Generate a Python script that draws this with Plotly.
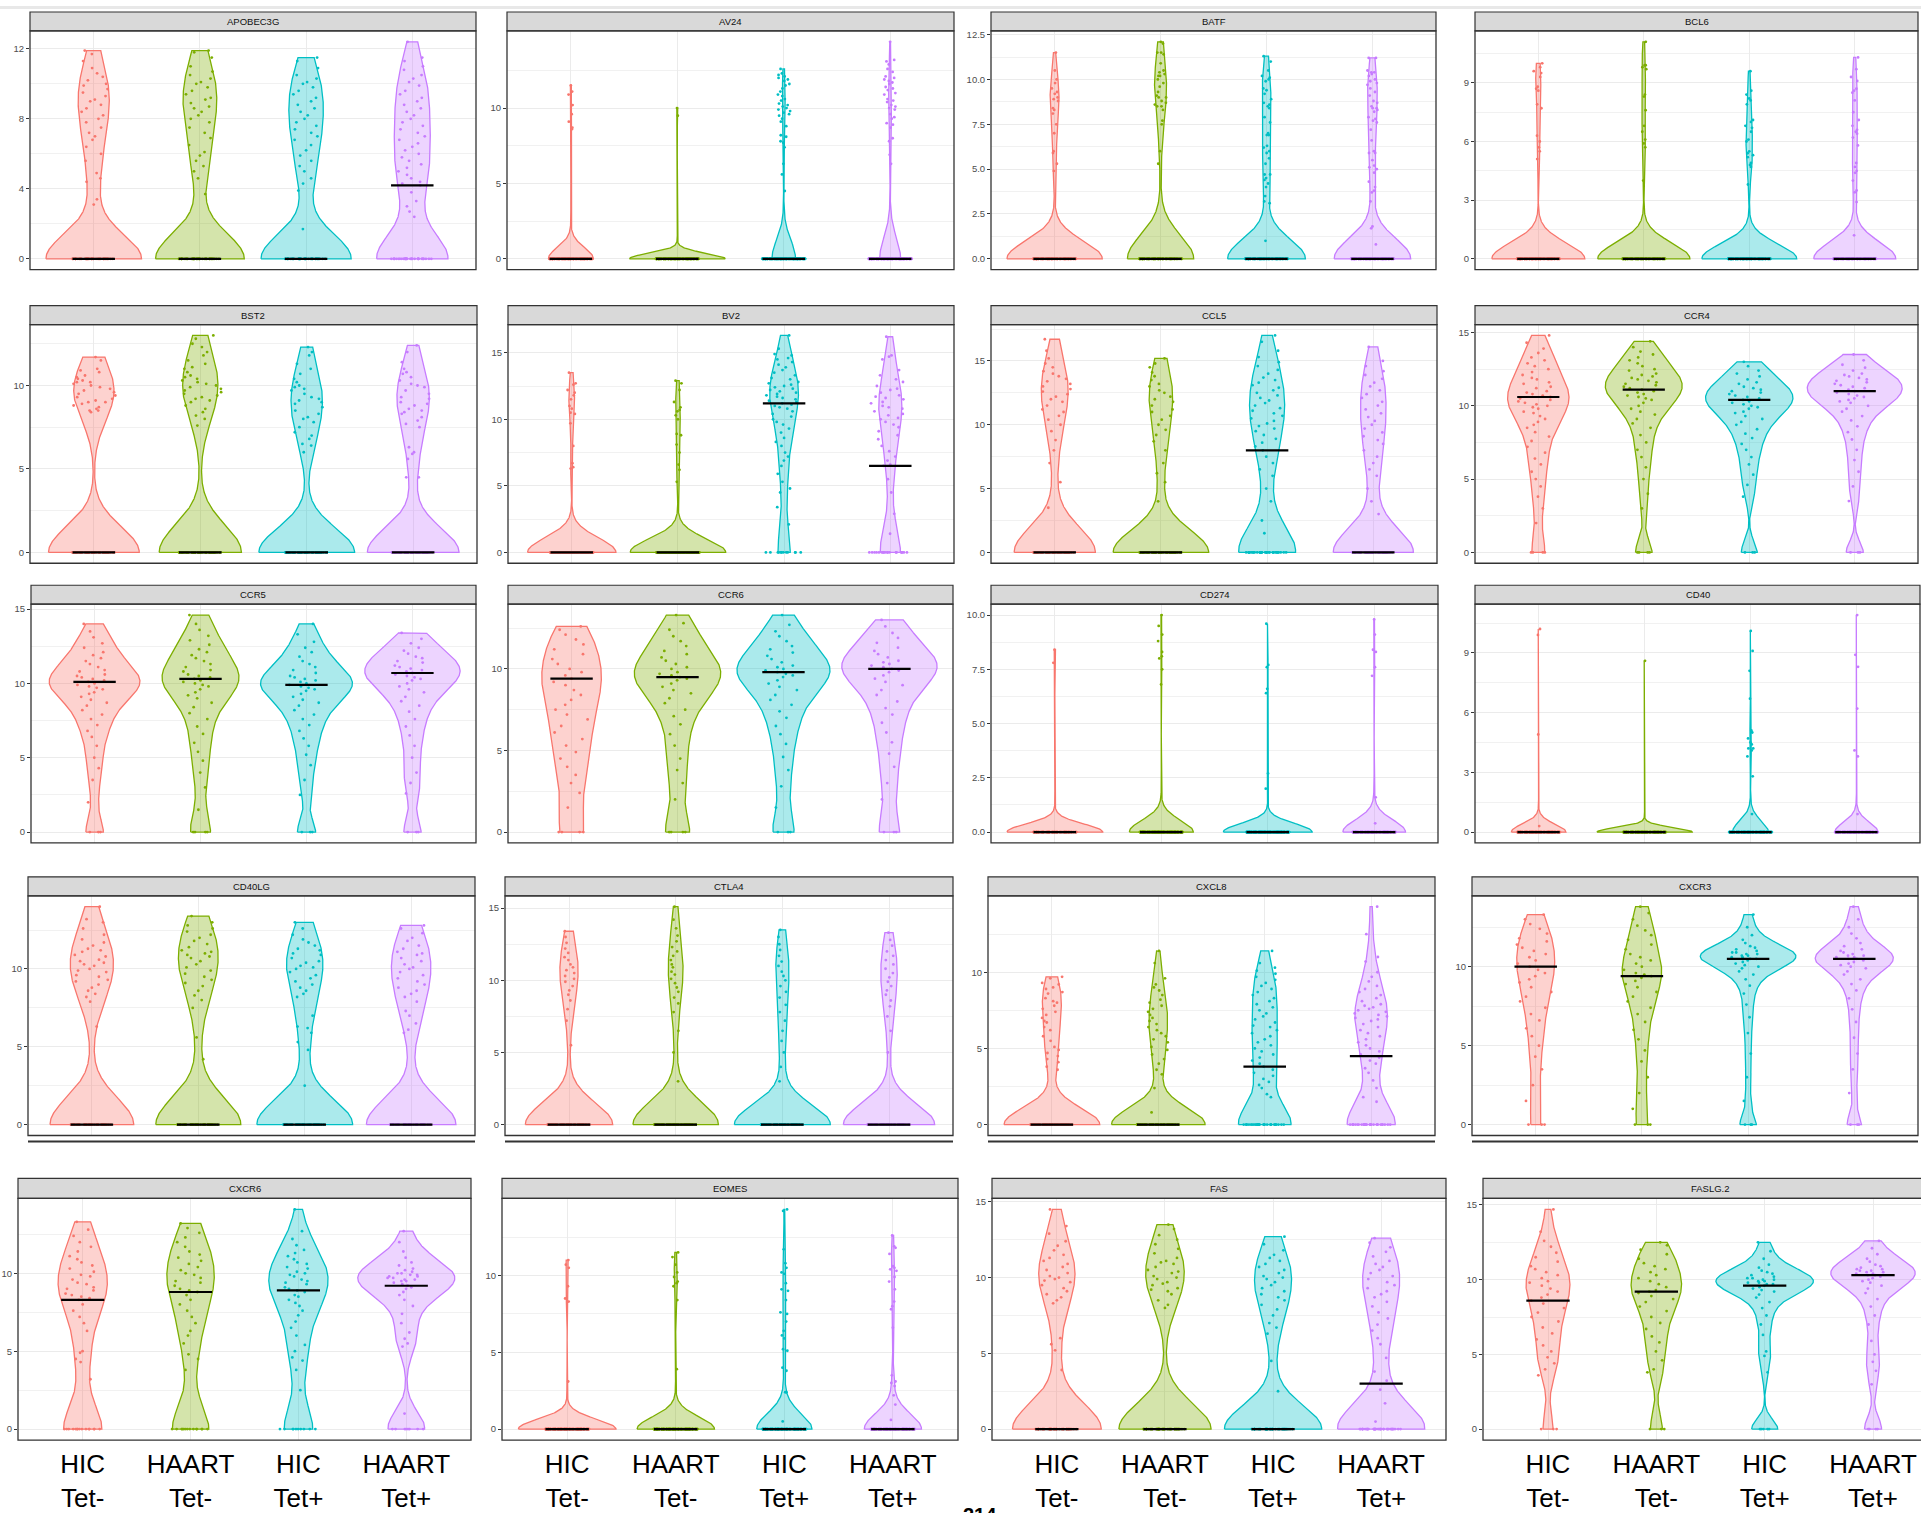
import numpy as np
import plotly.graph_objects as go

W, H = 1921, 1513

GENES = ["APOBEC3G", "AV24", "BATF", "BCL6",
         "BST2", "BV2", "CCL5", "CCR4",
         "CCR5", "CCR6", "CD274", "CD40",
         "CD40LG", "CTLA4", "CXCL8", "CXCR3",
         "CXCR6", "EOMES", "FAS", "FASLG.2"]
GROUP_LABELS = ["HIC<br>Tet-", "HAART<br>Tet-", "HIC<br>Tet+", "HAART<br>Tet+"]
GROUP_COLORS = ["#F8766D", "#7CAE00", "#00BFC4", "#C77CFF"]

# ---------------- data: zero counts, non-zero expression values, medians, y ticks ----------------
apobec3g_zeros = [50, 45, 42, 33]
apobec3g_expr = [
    [11.9, 11.7, 11.3, 10.9, 10.6, 10.4, 10.2, 10.0, 9.9, 9.7, 9.5, 9.3, 9.1, 9.0, 8.8, 8.6, 8.4, 8.2, 8.0, 7.8, 7.5, 7.2, 7.0, 6.8, 6.4, 6.0, 5.6, 4.9, 4.6, 4.4, 3.4, 3.1],
    [11.9, 11.8, 11.5, 11.0, 10.7, 10.5, 10.3, 10.1, 10.0, 9.8, 9.6, 9.4, 9.2, 9.1, 8.9, 8.7, 8.6, 8.4, 8.2, 8.0, 7.8, 7.5, 7.2, 6.9, 6.5, 6.1, 5.9, 5.6, 5.3, 5.0, 4.6, 3.7],
    [11.5, 11.3, 10.9, 10.5, 10.3, 10.1, 10.0, 9.8, 9.6, 9.4, 9.2, 9.0, 8.8, 8.6, 8.4, 8.2, 8.0, 7.8, 7.6, 7.4, 7.2, 7.0, 6.8, 6.5, 6.2, 5.9, 5.6, 5.3, 5.0, 4.6, 4.3, 3.9, 1.7],
    [12.4, 11.5, 11.3, 11.0, 10.8, 10.5, 10.3, 10.1, 9.9, 9.6, 9.4, 9.2, 9.0, 8.8, 8.6, 8.4, 8.2, 8.0, 7.8, 7.6, 7.4, 7.2, 7.0, 6.8, 6.6, 6.4, 6.2, 6.0, 5.8, 5.6, 5.4, 5.2, 5.0, 4.8, 4.6, 4.4, 4.3, 4.2, 3.8, 3.3, 3.0, 2.7, 2.4],
]
apobec3g_median = [0, 0, 0, 4.2]
apobec3g_ticks = [0, 4, 8, 12]

av24_zeros = [140, 150, 170, 150]
av24_expr = [
    [11.5, 11.1, 10.9, 10.2, 9.6, 9.1, 8.7, 8.6],
    [10.0, 9.5],
    [12.6, 12.3, 12.2, 12.1, 12.0, 11.9, 11.8, 11.6, 11.5, 11.3, 11.1, 10.9, 10.8, 10.6, 10.5, 10.3, 10.2, 10.1, 10.0, 9.9, 9.8, 9.7, 9.6, 9.5, 9.3, 9.1, 8.8, 8.2, 8.1, 7.8, 7.7, 7.4, 6.3, 5.6, 4.5],
    [14.4, 13.2, 13.1, 12.9, 12.6, 12.4, 12.1, 12.0, 11.9, 11.8, 11.7, 11.6, 11.4, 11.3, 11.2, 11.0, 10.9, 10.6, 10.5, 10.4, 10.2, 10.1, 10.0, 9.9, 9.6, 9.4, 9.3, 9.0, 8.9, 8.7, 8.0, 7.8, 6.9, 6.3],
]
av24_median = [0, 0, 0, 0]
av24_ticks = [0, 5, 10]

batf_zeros = [110, 100, 110, 135]
batf_expr = [
    [11.5, 10.5, 10.0, 9.8, 9.5, 9.3, 9.2, 9.0, 8.9, 8.8, 8.4, 8.3, 8.1, 7.5, 7.0, 6.0, 5.9, 5.3, 4.9],
    [12.1, 12.0, 11.5, 11.5, 11.4, 10.9, 10.5, 10.4, 10.3, 10.2, 10.2, 10.0, 9.8, 9.6, 9.3, 9.1, 9.0, 9.0, 8.8, 8.7, 8.6, 8.5, 8.5, 8.3, 7.7, 7.5, 6.0, 5.3],
    [11.3, 11.0, 10.5, 10.2, 10.1, 10.0, 9.9, 9.5, 9.4, 9.2, 8.9, 8.7, 8.6, 8.5, 8.4, 7.9, 7.6, 7.0, 6.9, 6.9, 6.3, 6.2, 6.0, 5.9, 5.6, 5.3, 4.7, 4.7, 4.5, 4.4, 4.2, 4.0, 3.5, 3.2, 3.1, 1.0],
    [11.2, 11.2, 10.5, 10.4, 10.4, 10.3, 10.2, 10.0, 9.9, 9.8, 9.7, 9.5, 9.3, 9.1, 8.8, 8.7, 8.5, 8.4, 8.4, 8.3, 8.2, 7.9, 7.8, 7.7, 7.6, 7.2, 6.6, 6.0, 5.9, 5.9, 5.5, 5.2, 5.1, 5.0, 4.8, 4.3, 4.0, 3.8, 3.7, 3.2, 1.8, 1.7, 0.8],
]
batf_median = [0, 0, 0, 0]
batf_ticks = [0, 2.5, 5, 7.5, 10, 12.5]

bcl6_zeros = [130, 120, 130, 120]
bcl6_expr = [
    [10.0, 9.8, 9.6, 9.5, 9.3, 8.8, 8.7, 8.6, 7.9, 7.7, 6.3, 6.0, 5.7, 5.5, 5.1],
    [11.1, 9.9, 9.9, 9.8, 9.7, 8.4, 8.3, 7.6, 6.8, 6.5, 6.1, 5.9, 5.7, 4.0],
    [9.6, 8.6, 8.4, 8.2, 8.1, 7.9, 7.1, 7.0, 6.8, 6.7, 6.5, 6.1, 6.0, 5.5, 5.4, 5.3, 5.2, 4.9, 4.8, 4.7, 3.8],
    [10.3, 9.7, 9.3, 9.1, 8.7, 8.6, 8.5, 8.1, 7.5, 7.1, 6.8, 6.6, 6.5, 6.4, 6.2, 5.8, 4.9, 4.7, 4.5, 4.4, 4.0, 3.5, 3.4, 2.9, 1.2],
]
bcl6_median = [0, 0, 0, 0]
bcl6_ticks = [0, 3, 6, 9]

bst2_zeros = [60, 60, 60, 55]
bst2_expr = [
    [11.7, 11.5, 11.0, 10.9, 10.8, 10.6, 10.5, 10.4, 10.3, 10.2, 10.2, 10.1, 10.0, 9.9, 9.8, 9.7, 9.6, 9.5, 9.4, 9.3, 9.2, 9.1, 9.0, 9.0, 8.9, 8.8, 8.7, 8.6, 8.5, 8.5, 8.4],
    [13.0, 12.8, 12.5, 12.3, 12.0, 11.8, 11.5, 11.3, 11.1, 11.0, 10.8, 10.6, 10.5, 10.4, 10.3, 10.2, 10.1, 10.0, 9.9, 9.8, 9.7, 9.6, 9.5, 9.4, 9.3, 9.2, 9.1, 9.0, 8.8, 8.6, 8.4, 8.2, 8.0, 7.6],
    [12.3, 12.0, 11.8, 11.3, 11.0, 10.7, 10.4, 10.2, 10.0, 9.9, 9.8, 9.7, 9.5, 9.3, 9.2, 9.1, 9.0, 8.9, 8.7, 8.5, 8.3, 8.1, 8.0, 7.8, 7.5, 7.2, 7.0, 6.8, 6.5, 6.4, 6.0],
    [12.4, 12.0, 11.4, 11.0, 10.8, 10.7, 10.5, 10.3, 10.1, 10.0, 9.9, 9.7, 9.5, 9.3, 9.2, 9.0, 8.9, 8.8, 8.6, 8.5, 8.4, 8.3, 8.1, 7.9, 7.7, 7.5, 6.3, 6.0, 5.9, 5.6, 4.5, 4.5],
]
bst2_median = [0, 0, 0, 0]
bst2_ticks = [0, 5, 10]

bv2_zeros = [130, 130, 12, 19]
bv2_expr = [
    [13.5, 12.7, 12.6, 12.2, 12.0, 11.8, 11.5, 11.0, 10.8, 10.5, 10.4, 9.7, 8.0, 6.7, 6.4, 6.3],
    [12.9, 12.7, 12.2, 11.3, 10.9, 10.7, 10.6, 10.3, 10.0, 8.9, 8.8, 8.1, 7.5, 6.6, 6.2, 5.3],
    [16.3, 15.3, 14.9, 14.8, 14.6, 14.5, 14.3, 14.1, 13.9, 13.7, 13.5, 13.3, 13.1, 13.0, 12.8, 12.7, 12.6, 12.5, 12.4, 12.3, 12.2, 12.1, 12.0, 11.9, 11.8, 11.7, 11.6, 11.5, 11.4, 11.3, 11.2, 11.1, 11.0, 10.9, 10.8, 10.6, 10.4, 10.2, 10.0, 9.8, 9.6, 9.3, 9.0, 8.6, 8.3, 8.0, 7.5, 7.2, 6.9, 6.5, 5.9, 5.3, 4.8, 4.5, 3.4, 2.1],
    [16.2, 14.8, 14.7, 14.5, 13.7, 13.3, 13.0, 12.8, 12.5, 12.3, 12.2, 12.0, 11.8, 11.7, 11.6, 11.5, 11.3, 11.2, 11.0, 10.9, 10.8, 10.6, 10.4, 10.3, 10.1, 10.0, 9.8, 9.6, 9.4, 9.1, 8.8, 8.5, 8.0, 7.6, 7.2, 6.9, 6.6, 6.5, 5.5, 4.5, 2.9, 1.4],
]
bv2_median = [0, 0, 11.2, 6.5]
bv2_ticks = [0, 5, 10, 15]

ccl5_zeros = [55, 60, 34, 45]
ccl5_expr = [
    [16.7, 15.8, 15.2, 14.8, 14.5, 14.2, 14.0, 13.8, 13.6, 13.4, 13.2, 13.0, 12.8, 12.6, 12.4, 12.2, 12.0, 11.8, 11.5, 11.2, 11.0, 10.7, 10.4, 10.0, 9.5, 8.8, 8.0, 7.0, 5.5, 3.5],
    [15.2, 14.8, 14.5, 14.1, 13.8, 13.5, 13.2, 13.0, 12.7, 12.5, 12.2, 12.0, 11.8, 11.5, 11.2, 11.0, 10.7, 10.4, 10.0, 9.6, 9.2, 8.7, 8.0, 7.0, 6.2, 5.5, 4.0],
    [17.0, 16.5, 15.8, 15.3, 14.9, 14.6, 14.3, 14.0, 13.7, 13.5, 13.3, 13.1, 12.9, 12.7, 12.5, 12.3, 12.1, 11.9, 11.7, 11.5, 11.3, 11.1, 10.9, 10.7, 10.5, 10.3, 10.1, 9.9, 9.7, 9.5, 9.2, 8.9, 8.6, 8.3, 8.0, 7.5, 7.0, 6.5, 6.0, 5.0, 4.0, 2.5, 1.5],
    [16.1, 15.0, 14.6, 14.2, 13.9, 13.6, 13.3, 13.0, 12.7, 12.4, 12.1, 11.8, 11.5, 11.2, 10.9, 10.6, 10.3, 10.0, 9.7, 9.4, 9.1, 8.8, 8.5, 8.0, 7.5, 7.0, 6.5, 6.0, 5.0, 4.0, 3.0],
]
ccl5_median = [0, 0, 8.0, 0]
ccl5_ticks = [0, 5, 10, 15]

ccr4_zeros = [4, 4, 3, 3]
ccr4_expr = [
    [14.8, 14.3, 13.9, 13.6, 13.3, 13.1, 12.9, 12.7, 12.5, 12.3, 12.1, 11.9, 11.8, 11.6, 11.5, 11.3, 11.2, 11.0, 10.9, 10.8, 10.7, 10.6, 10.5, 10.4, 10.3, 10.2, 10.1, 10.0, 9.9, 9.8, 9.6, 9.5, 9.3, 9.1, 8.9, 8.7, 8.5, 8.2, 7.9, 7.6, 7.2, 6.8, 6.4, 6.0, 5.5, 5.0, 4.5, 3.8, 3.0, 2.0],
    [14.4, 14.0, 13.7, 13.5, 13.3, 13.1, 12.9, 12.7, 12.5, 12.4, 12.2, 12.1, 12.0, 11.9, 11.8, 11.7, 11.6, 11.5, 11.4, 11.3, 11.2, 11.1, 11.0, 10.9, 10.8, 10.7, 10.6, 10.5, 10.4, 10.2, 10.0, 9.8, 9.6, 9.4, 9.1, 8.8, 8.5, 8.0, 7.5, 7.0, 6.5, 5.8, 5.0, 4.0, 3.0],
    [13.0, 12.7, 12.4, 12.2, 12.0, 11.8, 11.6, 11.5, 11.3, 11.2, 11.1, 11.0, 10.9, 10.8, 10.7, 10.6, 10.5, 10.4, 10.3, 10.2, 10.1, 10.0, 9.9, 9.8, 9.6, 9.5, 9.3, 9.1, 8.9, 8.7, 8.4, 8.1, 7.8, 7.4, 7.0, 6.5, 6.0, 5.3, 4.6, 3.8],
    [13.5, 13.1, 12.8, 12.6, 12.4, 12.2, 12.1, 12.0, 11.9, 11.8, 11.7, 11.6, 11.5, 11.4, 11.3, 11.2, 11.1, 11.0, 10.9, 10.8, 10.7, 10.6, 10.5, 10.4, 10.3, 10.2, 10.0, 9.8, 9.6, 9.3, 9.0, 8.6, 8.2, 7.7, 7.0, 6.3, 5.5, 4.5, 3.5],
]
ccr4_median = [10.6, 11.1, 10.4, 11.0]
ccr4_ticks = [0, 5, 10, 15]

ccr5_zeros = [3, 4, 3, 3]
ccr5_expr = [
    [14.0, 13.5, 13.1, 12.7, 12.4, 12.1, 11.9, 11.7, 11.5, 11.3, 11.1, 10.9, 10.8, 10.6, 10.5, 10.4, 10.3, 10.2, 10.1, 10.0, 9.9, 9.8, 9.7, 9.6, 9.4, 9.3, 9.1, 8.9, 8.7, 8.5, 8.2, 7.9, 7.6, 7.2, 6.8, 6.4, 5.8, 5.0, 4.3, 3.5, 2.0],
    [14.6, 14.0, 13.6, 13.2, 12.9, 12.6, 12.3, 12.1, 11.9, 11.7, 11.5, 11.3, 11.1, 10.9, 10.8, 10.6, 10.5, 10.4, 10.3, 10.2, 10.1, 10.0, 9.9, 9.8, 9.6, 9.4, 9.2, 9.0, 8.7, 8.4, 8.0, 7.6, 7.1, 6.6, 6.0, 5.4, 4.8, 4.0, 3.0, 1.5],
    [14.0, 13.3, 12.8, 12.4, 12.1, 11.8, 11.5, 11.3, 11.1, 10.9, 10.7, 10.5, 10.4, 10.3, 10.2, 10.1, 10.0, 9.9, 9.8, 9.7, 9.6, 9.5, 9.3, 9.1, 8.9, 8.7, 8.5, 8.2, 7.9, 7.6, 7.2, 6.8, 6.3, 5.8, 5.2, 4.5, 3.5, 2.5],
    [13.4, 13.0, 12.7, 12.4, 12.2, 12.0, 11.8, 11.7, 11.5, 11.4, 11.2, 11.1, 11.0, 10.9, 10.8, 10.7, 10.6, 10.5, 10.4, 10.3, 10.2, 10.0, 9.8, 9.6, 9.4, 9.1, 8.8, 8.5, 8.1, 7.6, 7.1, 6.5, 5.8, 5.0, 4.0, 3.3, 2.6],
]
ccr5_median = [10.1, 10.3, 9.9, 10.7]
ccr5_ticks = [0, 5, 10, 15]

ccr6_zeros = [4, 4, 3, 3]
ccr6_expr = [
    [12.6, 12.4, 12.1, 11.8, 11.5, 11.2, 10.9, 10.6, 10.3, 10.0, 9.8, 9.6, 9.4, 9.2, 9.0, 8.7, 8.4, 8.1, 7.8, 7.5, 7.2, 6.9, 6.5, 6.1, 5.7, 5.3, 4.9, 4.5, 4.0, 3.5, 3.0, 2.4, 1.5],
    [13.3, 12.8, 12.4, 12.0, 11.7, 11.4, 11.1, 10.9, 10.7, 10.5, 10.3, 10.1, 10.0, 9.8, 9.7, 9.6, 9.5, 9.4, 9.3, 9.1, 8.9, 8.7, 8.5, 8.2, 7.9, 7.5, 7.1, 6.6, 6.0, 5.3, 4.5, 3.8, 3.0, 2.0],
    [13.3, 12.7, 12.3, 12.0, 11.7, 11.4, 11.2, 11.0, 10.8, 10.6, 10.4, 10.2, 10.1, 10.0, 9.9, 9.8, 9.7, 9.6, 9.5, 9.3, 9.1, 8.9, 8.7, 8.4, 8.1, 7.8, 7.4, 7.0, 6.5, 6.0, 5.4, 4.6, 3.8, 2.8, 1.5],
    [13.0, 12.6, 12.2, 11.9, 11.6, 11.3, 11.1, 10.9, 10.7, 10.5, 10.4, 10.3, 10.2, 10.1, 10.0, 9.9, 9.8, 9.6, 9.4, 9.2, 9.0, 8.7, 8.4, 8.0, 7.6, 7.2, 6.7, 6.1, 5.5, 4.8, 4.0, 3.0, 2.0],
]
ccr6_median = [9.4, 9.5, 9.8, 10.0]
ccr6_ticks = [0, 5, 10]

cd274_zeros = [100, 220, 200, 140]
cd274_expr = [
    [8.4, 7.8],
    [10.0, 9.5, 9.1, 8.8, 8.3, 8.1, 8.0, 7.5, 6.8],
    [9.6, 7.7, 7.6, 6.6, 6.4, 2.7, 2.0],
    [9.8, 9.1, 8.4, 8.3, 7.6, 7.2, 1.6, 0.4],
]
cd274_median = [0, 0, 0, 0]
cd274_ticks = [0, 2.5, 5, 7.5, 10]

cd40_zeros = [150, 150, 140, 140]
cd40_expr = [
    [10.2, 9.9, 4.9, 0.3],
    [8.6],
    [10.1, 9.1, 8.1, 6.7, 5.1, 5.0, 4.7, 4.5, 4.4, 4.2, 4.2, 4.1, 3.8, 2.8, 0.9],
    [10.9, 8.9, 8.3, 6.2, 4.1, 3.8, 0.9],
]
cd40_median = [0, 0, 0, 0]
cd40_ticks = [0, 3, 6, 9]

cd40lg_zeros = [45, 45, 50, 43]
cd40lg_expr = [
    [14.0, 13.2, 13.0, 12.6, 12.2, 11.9, 11.7, 11.5, 11.3, 11.2, 11.1, 10.9, 10.8, 10.6, 10.5, 10.4, 10.3, 10.2, 10.0, 9.9, 9.8, 9.6, 9.5, 9.3, 9.2, 9.0, 8.8, 8.6, 8.4, 8.2, 7.9, 6.3],
    [13.4, 13.0, 12.8, 12.6, 12.4, 12.2, 12.0, 11.8, 11.6, 11.4, 11.2, 11.1, 11.0, 10.9, 10.8, 10.7, 10.5, 10.3, 10.1, 9.9, 9.7, 9.5, 9.3, 9.1, 8.9, 8.6, 8.3, 8.0, 7.5, 5.6, 4.2],
    [13.0, 12.6, 12.2, 11.9, 11.7, 11.5, 11.3, 11.2, 11.0, 10.9, 10.7, 10.5, 10.4, 10.2, 10.1, 10.0, 9.8, 9.6, 9.4, 9.2, 9.0, 8.8, 8.6, 8.4, 8.2, 7.0, 6.3, 6.2, 5.9, 5.3, 4.8, 2.5],
    [12.8, 12.6, 12.3, 12.0, 11.8, 11.5, 11.3, 11.1, 11.0, 10.9, 10.7, 10.5, 10.3, 10.1, 10.0, 9.8, 9.6, 9.4, 9.2, 9.0, 8.8, 8.6, 8.4, 8.2, 7.9, 7.3, 7.0, 6.5, 6.1, 5.9],
]
cd40lg_median = [0, 0, 0, 0]
cd40lg_ticks = [0, 5, 10]

ctla4_zeros = [64, 70, 65, 60]
ctla4_expr = [
    [13.4, 13.0, 12.6, 12.2, 11.9, 11.6, 11.4, 11.1, 10.9, 10.7, 10.5, 10.3, 10.1, 9.9, 9.6, 9.3, 9.0, 8.6, 8.0, 7.2, 5.5],
    [15.1, 14.2, 13.6, 13.1, 12.7, 12.3, 12.0, 11.7, 11.4, 11.1, 10.9, 10.6, 10.4, 10.1, 9.8, 9.5, 9.2, 8.8, 8.4, 7.8, 6.5, 5.0, 3.0],
    [13.5, 13.0, 12.5, 12.1, 11.7, 11.3, 11.0, 10.6, 10.3, 10.0, 9.6, 9.2, 8.8, 8.3, 7.8, 7.2, 6.5, 5.8, 5.0, 4.0, 3.0],
    [13.3, 12.8, 12.4, 12.0, 11.7, 11.4, 11.1, 10.8, 10.5, 10.2, 9.9, 9.6, 9.3, 9.0, 8.6, 8.2, 7.5, 6.5, 5.0],
]
ctla4_median = [0, 0, 0, 0]
ctla4_ticks = [0, 5, 10, 15]

cxcl8_zeros = [70, 65, 32, 30]
cxcl8_expr = [
    [9.7, 9.6, 9.3, 9.2, 9.0, 8.9, 8.7, 8.6, 8.3, 8.1, 8.0, 7.8, 7.6, 7.4, 7.2, 7.0, 6.8, 6.7, 6.4, 6.2, 5.8, 5.5, 5.1, 4.9, 4.7, 4.5, 4.3, 4.1, 3.8, 3.6],
    [11.4, 10.6, 9.6, 9.2, 9.0, 8.8, 8.5, 8.2, 8.0, 7.8, 7.6, 7.4, 7.2, 7.0, 6.8, 6.6, 6.4, 6.2, 6.0, 5.8, 5.6, 5.4, 5.1, 4.9, 4.6, 4.3, 4.0, 3.6, 3.3, 2.4, 0.8],
    [11.4, 10.6, 10.3, 10.1, 9.9, 9.7, 9.5, 9.3, 9.1, 8.9, 8.7, 8.5, 8.3, 8.1, 7.9, 7.7, 7.5, 7.3, 7.1, 6.9, 6.7, 6.5, 6.4, 6.2, 6.0, 5.8, 5.6, 5.4, 5.2, 5.0, 4.8, 4.6, 4.4, 4.2, 4.0, 3.8, 3.6, 3.4, 3.2, 3.0, 2.8, 2.6, 2.4, 2.0, 1.8],
    [14.3, 12.5, 11.0, 10.7, 10.0, 9.7, 9.4, 9.1, 8.9, 8.7, 8.5, 8.3, 8.1, 7.9, 7.8, 7.7, 7.6, 7.5, 7.4, 7.3, 7.2, 7.1, 7.0, 6.9, 6.8, 6.6, 6.4, 6.2, 6.0, 5.8, 5.6, 5.4, 5.2, 5.0, 4.8, 4.6, 4.4, 4.2, 4.0, 3.7, 3.4, 2.9, 2.4, 1.8, 1.5],
]
cxcl8_median = [0, 0, 3.8, 4.5]
cxcl8_ticks = [0, 5, 10]

cxcr3_zeros = [3, 3, 3, 3]
cxcr3_expr = [
    [13.3, 13.0, 12.7, 12.4, 12.1, 11.8, 11.6, 11.4, 11.2, 11.0, 10.8, 10.6, 10.4, 10.2, 10.0, 9.8, 9.6, 9.4, 9.2, 9.0, 8.7, 8.4, 8.1, 7.8, 7.4, 7.0, 6.6, 6.1, 5.6, 5.0, 4.3, 3.5, 2.5, 1.5],
    [13.8, 13.4, 13.0, 12.6, 12.3, 12.0, 11.7, 11.4, 11.1, 10.8, 10.6, 10.4, 10.2, 10.0, 9.8, 9.6, 9.5, 9.4, 9.3, 9.1, 8.9, 8.7, 8.4, 8.1, 7.8, 7.4, 7.0, 6.5, 6.0, 5.4, 4.7, 4.0, 3.0, 2.0, 1.0],
    [13.3, 12.5, 12.0, 11.7, 11.5, 11.3, 11.2, 11.1, 11.0, 10.9, 10.9, 10.8, 10.8, 10.7, 10.7, 10.6, 10.6, 10.5, 10.5, 10.4, 10.3, 10.2, 10.1, 10.0, 9.9, 9.7, 9.5, 9.2, 8.8, 8.3, 7.6, 6.8, 5.8, 4.5, 3.0, 1.5],
    [13.8, 13.0, 12.5, 12.1, 11.8, 11.5, 11.3, 11.1, 11.0, 10.9, 10.8, 10.7, 10.7, 10.6, 10.6, 10.5, 10.5, 10.4, 10.3, 10.2, 10.1, 10.0, 9.9, 9.7, 9.5, 9.2, 8.9, 8.5, 8.0, 7.3, 6.5, 5.5, 4.5, 3.5, 2.0],
]
cxcr3_median = [10.0, 9.4, 10.5, 10.5]
cxcr3_ticks = [0, 5, 10]

cxcr6_zeros = [15, 14, 10, 8]
cxcr6_expr = [
    [13.3, 12.8, 12.4, 12.0, 11.7, 11.4, 11.1, 10.9, 10.7, 10.5, 10.3, 10.1, 9.9, 9.8, 9.6, 9.4, 9.3, 9.1, 9.0, 8.9, 8.7, 8.6, 8.5, 8.4, 8.3, 8.0, 7.6, 7.2, 6.8, 6.3, 5.0, 4.9, 4.5, 4.3, 3.2],
    [13.2, 12.9, 12.6, 12.3, 12.0, 11.7, 11.4, 11.2, 11.0, 10.8, 10.6, 10.4, 10.2, 10.0, 9.9, 9.7, 9.5, 9.4, 9.2, 9.0, 8.9, 8.8, 8.6, 8.3, 8.0, 7.6, 7.2, 6.8, 6.3, 6.0, 5.5, 4.8, 4.5, 3.8],
    [14.1, 12.7, 12.2, 11.8, 11.5, 11.3, 11.1, 10.9, 10.7, 10.6, 10.4, 10.3, 10.1, 10.0, 9.9, 9.8, 9.6, 9.5, 9.4, 9.3, 9.1, 9.0, 8.9, 8.8, 8.6, 8.5, 8.3, 8.1, 7.9, 7.6, 7.3, 6.9, 6.5, 6.0, 5.4, 5.0, 4.6, 4.4, 3.8, 2.5],
    [12.7, 12.0, 11.4, 11.0, 10.7, 10.5, 10.3, 10.2, 10.1, 10.0, 10.0, 9.9, 9.9, 9.8, 9.8, 9.7, 9.7, 9.6, 9.6, 9.5, 9.5, 9.4, 9.3, 9.2, 9.1, 9.0, 8.8, 8.6, 8.3, 7.9, 7.4, 6.8, 6.2, 5.8, 5.5, 5.3, 1.0],
]
cxcr6_median = [8.3, 8.8, 8.9, 9.2]
cxcr6_ticks = [0, 5, 10]

eomes_zeros = [140, 140, 130, 130]
eomes_expr = [
    [11.0, 10.7, 10.5, 9.3, 8.5, 8.3, 3.1],
    [11.5, 11.2, 10.7, 10.2, 9.9, 9.6, 9.5, 9.3, 8.4, 3.9],
    [14.3, 14.2, 11.7, 10.8, 10.5, 10.2, 10.1, 9.5, 9.1, 9.0, 8.4, 7.6, 7.5, 7.0, 6.4, 6.1, 5.9, 5.2, 5.1, 4.0, 3.8, 2.4, 2.4, 0.5],
    [12.6, 11.9, 11.8, 11.4, 10.6, 10.5, 10.4, 10.3, 9.9, 9.6, 9.1, 8.3, 8.0, 7.8, 6.6, 3.5, 3.1, 3.0, 2.8, 2.2, 1.6, 0.6],
]
eomes_median = [0, 0, 0, 0]
eomes_ticks = [0, 5, 10]

fas_zeros = [45, 50, 45, 35]
fas_expr = [
    [14.5, 13.4, 12.9, 12.4, 12.1, 11.8, 11.5, 11.3, 11.1, 10.9, 10.7, 10.5, 10.3, 10.1, 10.0, 9.9, 9.8, 9.7, 9.5, 9.3, 9.1, 8.9, 8.7, 8.5, 8.3, 6.0, 5.6, 5.2, 3.9],
    [13.5, 13.2, 12.8, 12.5, 12.2, 11.9, 11.6, 11.3, 11.1, 11.0, 10.9, 10.7, 10.5, 10.4, 10.3, 10.1, 10.0, 9.9, 9.7, 9.6, 9.5, 9.3, 9.2, 9.1, 8.9, 8.5, 8.2, 8.0],
    [12.7, 12.2, 11.8, 11.5, 11.3, 11.1, 10.9, 10.7, 10.5, 10.3, 10.1, 10.0, 9.9, 9.7, 9.5, 9.3, 9.1, 8.9, 8.7, 8.5, 8.2, 7.9, 7.5, 7.0, 6.7, 6.3, 4.5, 2.5],
    [12.6, 12.3, 12.0, 11.7, 11.4, 11.1, 10.9, 10.7, 10.5, 10.3, 10.1, 9.9, 9.7, 9.5, 9.3, 9.1, 8.9, 8.7, 8.4, 8.1, 7.7, 7.3, 6.9, 6.5, 6.0, 5.6, 4.7, 3.8, 3.2, 2.6, 1.7, 0.5],
]
fas_median = [0, 0, 0, 3.0]
fas_ticks = [0, 5, 10, 15]

faslg2_zeros = [3, 3, 5, 4]
faslg2_expr = [
    [14.7, 13.2, 12.6, 12.2, 11.8, 11.5, 11.2, 10.9, 10.7, 10.5, 10.3, 10.1, 9.9, 9.8, 9.6, 9.4, 9.2, 9.0, 8.8, 8.6, 8.4, 8.1, 7.8, 7.5, 7.2, 6.8, 6.4, 6.0, 5.6, 5.2, 4.8, 4.4, 4.0, 3.6],
    [12.5, 12.3, 12.0, 11.7, 11.4, 11.1, 10.9, 10.7, 10.5, 10.3, 10.1, 9.9, 9.7, 9.5, 9.3, 9.2, 9.1, 8.9, 8.7, 8.5, 8.2, 7.9, 7.5, 7.1, 6.7, 6.2, 5.8, 5.2, 4.6, 4.0, 3.8],
    [12.5, 11.9, 11.4, 11.0, 10.8, 10.6, 10.5, 10.4, 10.3, 10.2, 10.1, 10.1, 10.0, 10.0, 9.9, 9.9, 9.8, 9.8, 9.7, 9.7, 9.6, 9.5, 9.4, 9.3, 9.2, 9.0, 8.8, 8.5, 8.1, 7.6, 7.0, 6.3, 5.2, 4.9, 3.8],
    [12.6, 12.1, 11.7, 11.4, 11.2, 11.0, 10.9, 10.8, 10.7, 10.7, 10.6, 10.6, 10.5, 10.5, 10.4, 10.4, 10.3, 10.3, 10.2, 10.1, 10.0, 9.9, 9.8, 9.6, 9.4, 9.1, 8.7, 8.2, 7.6, 7.0, 5.9, 5.0, 4.5, 3.9, 3.0],
]
faslg2_median = [8.6, 9.2, 9.6, 10.3]
faslg2_ticks = [0, 5, 10, 15]

PANELS = [
    (apobec3g_zeros, apobec3g_expr, apobec3g_median, apobec3g_ticks),
    (av24_zeros, av24_expr, av24_median, av24_ticks),
    (batf_zeros, batf_expr, batf_median, batf_ticks),
    (bcl6_zeros, bcl6_expr, bcl6_median, bcl6_ticks),
    (bst2_zeros, bst2_expr, bst2_median, bst2_ticks),
    (bv2_zeros, bv2_expr, bv2_median, bv2_ticks),
    (ccl5_zeros, ccl5_expr, ccl5_median, ccl5_ticks),
    (ccr4_zeros, ccr4_expr, ccr4_median, ccr4_ticks),
    (ccr5_zeros, ccr5_expr, ccr5_median, ccr5_ticks),
    (ccr6_zeros, ccr6_expr, ccr6_median, ccr6_ticks),
    (cd274_zeros, cd274_expr, cd274_median, cd274_ticks),
    (cd40_zeros, cd40_expr, cd40_median, cd40_ticks),
    (cd40lg_zeros, cd40lg_expr, cd40lg_median, cd40lg_ticks),
    (ctla4_zeros, ctla4_expr, ctla4_median, ctla4_ticks),
    (cxcl8_zeros, cxcl8_expr, cxcl8_median, cxcl8_ticks),
    (cxcr3_zeros, cxcr3_expr, cxcr3_median, cxcr3_ticks),
    (cxcr6_zeros, cxcr6_expr, cxcr6_median, cxcr6_ticks),
    (eomes_zeros, eomes_expr, eomes_median, eomes_ticks),
    (fas_zeros, fas_expr, fas_median, fas_ticks),
    (faslg2_zeros, faslg2_expr, faslg2_median, faslg2_ticks),
]

# ---------------- layout geometry (pixels) ----------------
ROW_V = [(10, 29, 268), (304, 323, 562), (584, 603, 842), (876, 895, 1135), (1178, 1198, 1440)]
COL_H = [
    [(30, 476), (507, 954), (991, 1436), (1475, 1918)],
    [(30, 477), (508, 954), (991, 1437), (1475, 1918)],
    [(31, 476), (508, 953), (991, 1438), (1475, 1920)],
    [(28, 475), (505, 953), (988, 1435), (1472, 1918)],
    [(18, 471), (502, 958), (992, 1446), (1483, 1938)],
]
CELLS_PER_GROUP = 150      # cell count assumed by the bandwidth rule
HALF_WIDTH = 0.45          # half of the widest violin in each panel (area scaling)
FONT = "Liberation Sans, Arial, Helvetica, sans-serif"
BORDER = "#333333"
GRID = "#EBEBEB"


def nrd0(v):
    v = np.asarray(v, float)
    hi = v.std(ddof=1)
    q75, q25 = np.percentile(v, [75, 25])
    lo = min(hi, (q75 - q25) / 1.34)
    if lo <= 0:
        lo = hi if hi > 0 else 1.0
    return 0.9 * lo * CELLS_PER_GROUP ** -0.2


def trimmed_kde(v):
    v = np.asarray(v, float)
    bw = nrd0(v)
    t = np.linspace(v.min(), v.max(), 400)
    z = (t[:, None] - v[None, :]) / bw
    d = np.exp(-0.5 * z * z).sum(axis=1) / (len(v) * bw * np.sqrt(2 * np.pi))
    return t, d


def rgba(hexc, a):
    h = hexc.lstrip("#")
    return "rgba(%d,%d,%d,%.2f)" % (int(h[0:2], 16), int(h[2:4], 16), int(h[4:6], 16), a)


def fmt(t, dec):
    return ("%.1f" % t) if dec else ("%d" % round(t))


fig = go.Figure()
layout = {}
shapes = []
annotations = []

for p, gene in enumerate(GENES):
    zeros, expr, med, ticks = PANELS[p]
    r, c = divmod(p, 4)
    left, right = COL_H[r][c]
    st, sb, pb = ROW_V[r]
    vis_right = min(right, W)
    xa = "x" if p == 0 else "x%d" % (p + 1)
    ya = "y" if p == 0 else "y%d" % (p + 1)
    xkey = "xaxis" if p == 0 else "xaxis%d" % (p + 1)
    ykey = "yaxis" if p == 0 else "yaxis%d" % (p + 1)

    groups = [[0.0] * zeros[g] + list(expr[g]) for g in range(4)]
    ymax = max(max(g) for g in groups)
    ylo, yhi = -0.05 * ymax, ymax * 1.05

    # violin bodies: trimmed Gaussian KDE, all violins of a panel share one density scale
    kdes = [trimmed_kde(vals) for vals in groups]
    dmax = max(d.max() for _, d in kdes)
    for g in range(4):
        t, d = kdes[g]
        hw = d / dmax * HALF_WIDTH
        xs = np.concatenate([g + 1 - hw, (g + 1 + hw)[::-1], [g + 1 - hw[0]]])
        ys = np.concatenate([t, t[::-1], [t[0]]])
        col = GROUP_COLORS[g]
        fig.add_trace(go.Scatter(x=xs, y=ys, xaxis=xa, yaxis=ya, mode="lines",
                                 fill="toself", fillcolor=rgba(col, 0.33),
                                 line=dict(color=col, width=1.3),
                                 hoverinfo="skip", showlegend=False))

    # jittered cells (violin trace used only for its point cloud)
    for g in range(4):
        col = GROUP_COLORS[g]
        fig.add_trace(go.Violin(
            y=groups[g], x0=g + 1, xaxis=xa, yaxis=ya, width=0.9, spanmode="hard",
            line=dict(color=col, width=0), fillcolor="rgba(0,0,0,0)",
            points="all", pointpos=0, jitter=0.45,
            marker=dict(size=2.8, color=col, line=dict(width=0)),
            box=dict(visible=False), meanline=dict(visible=False),
            hoveron="points", showlegend=False, name=gene))

    mx, my = [], []
    for g in range(4):
        mx += [g + 1 - 0.2, g + 1 + 0.2, None]
        my += [med[g], med[g], None]
    fig.add_trace(go.Scatter(x=mx, y=my, xaxis=xa, yaxis=ya, mode="lines",
                             line=dict(color="#000000", width=2.2),
                             hoverinfo="skip", showlegend=False))

    dec = any(abs(t - round(t)) > 1e-9 for t in ticks)
    step = ticks[1] - ticks[0]
    minor = []
    k = np.floor(ylo / (step / 2)) - 1
    while k * step / 2 <= yhi:
        v = k * step / 2
        if ylo <= v <= yhi and int(k) % 2 != 0:
            minor.append(v)
        k += 1

    layout[xkey] = dict(
        domain=[left / W, vis_right / W],
        range=[0.4, 0.4 + 4.2 * (vis_right - left) / (right - left)],
        anchor=ya, tickvals=[1, 2, 3, 4], ticktext=GROUP_LABELS,
        showticklabels=(r == 4), ticks="",
        tickfont=dict(family=FONT, size=26, color="#000000"),
        ticklabelstandoff=6,
        showgrid=True, gridcolor=GRID, gridwidth=1.1,
        zeroline=False, showline=False, fixedrange=True)
    layout[ykey] = dict(
        domain=[1 - pb / H, 1 - sb / H], range=[ylo, yhi], anchor=xa,
        tickvals=ticks, ticktext=[fmt(t, dec) for t in ticks],
        ticks="outside", ticklen=3, tickwidth=1, tickcolor=BORDER,
        tickfont=dict(family=FONT, size=9.5, color="#4D4D4D"),
        showgrid=True, gridcolor=GRID, gridwidth=1.1,
        minor=dict(tickvals=minor, showgrid=True, gridcolor="#F1F1F1", gridwidth=0.8, ticks=""),
        zeroline=False, showline=False, fixedrange=True)

    # strip
    shapes.append(dict(type="rect", xref="paper", yref="paper",
                       x0=left / W, x1=right / W, y0=1 - sb / H, y1=1 - st / H,
                       fillcolor="#D9D9D9", line=dict(color=BORDER, width=1.2), layer="above"))
    annotations.append(dict(xref="paper", yref="paper", x=(left + right) / 2 / W,
                            y=1 - (st + sb) / 2 / H, text=gene, showarrow=False,
                            font=dict(family=FONT, size=9.5, color="#111111"),
                            xanchor="center", yanchor="middle"))
    # panel border
    shapes.append(dict(type="rect", xref="paper", yref="paper",
                       x0=left / W, x1=right / W, y0=1 - pb / H, y1=1 - sb / H,
                       fillcolor="rgba(0,0,0,0)", line=dict(color=BORDER, width=1.3), layer="above"))
    if r == 3:
        shapes.append(dict(type="line", xref="paper", yref="paper",
                           x0=left / W, x1=right / W, y0=1 - 1141 / H, y1=1 - 1141 / H,
                           line=dict(color=BORDER, width=2)))

# faint band at the very top
shapes.append(dict(type="rect", xref="paper", yref="paper", x0=0, x1=1,
                   y0=1 - 7 / H, y1=1 - 4 / H, fillcolor="#E8E8E8", line=dict(width=0), layer="below"))
# partially cut page number at the bottom (cut by the page edge, as in the source)
annotations.append(dict(xref="paper", yref="paper", x=980 / W, y=1 - 1502 / H, text="<b>214</b>",
                        showarrow=False, xanchor="center", yanchor="top",
                        font=dict(family=FONT, size=20, color="#000000")))

fig.update_layout(
    width=W, height=H, margin=dict(l=0, r=0, t=0, b=0),
    paper_bgcolor="white", plot_bgcolor="white",
    violinmode="overlay", violingap=0, violingroupgap=0,
    shapes=shapes, annotations=annotations, showlegend=False,
    **layout)

fig.write_html("out.html", config={"displayModeBar": False},
               post_script="document.body.style.margin='0';document.body.style.overflow='hidden';")
